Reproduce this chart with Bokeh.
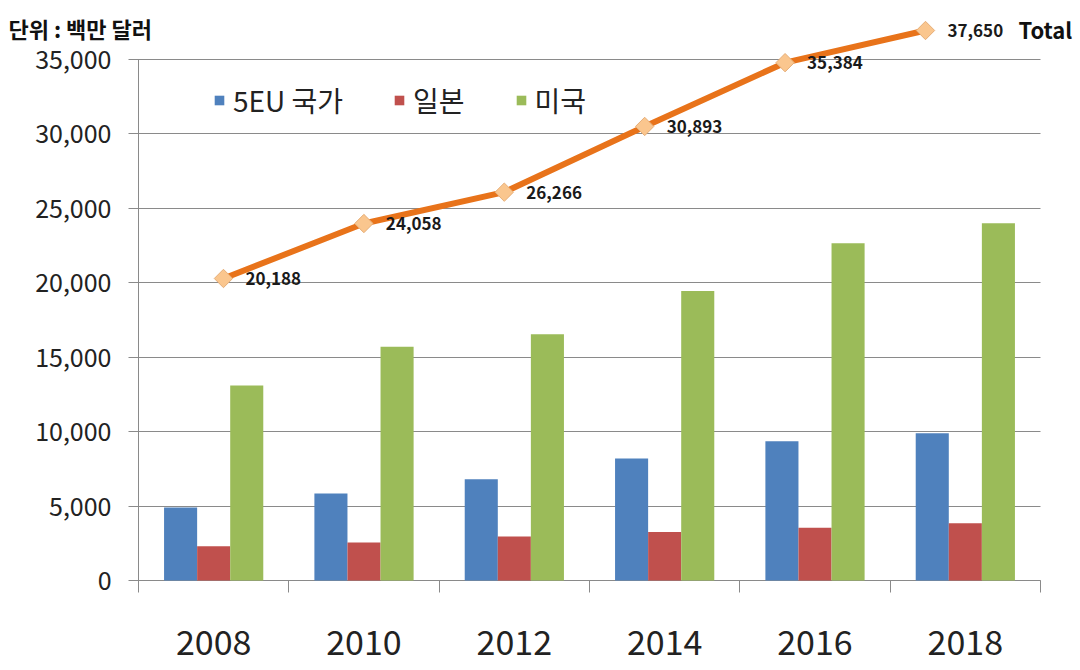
import math
from bokeh.plotting import figure
from bokeh.models import (ColumnDataSource, Range1d, FixedTicker, NumeralTickFormatter,
                          Legend, LegendItem, Label, SingleIntervalTicker, LinearAxis)
from bokeh.transform import dodge
from bokeh.core.properties import value
from bokeh.embed import file_html
from bokeh.resources import INLINE

years = ["2008", "2010", "2012", "2014", "2016", "2018"]
eu5 = [4900, 5850, 6800, 8200, 9350, 9900]
japan = [2300, 2550, 2950, 3250, 3550, 3850]
usa = [13100, 15700, 16550, 19450, 22650, 24000]
total = [20188, 24058, 26266, 30893, 35384, 37650]
series_names = ["5EU 국가", "일본", "미국"]
unit_text = "단위 : 백만 달러"
total_name = "Total"
y_max = 35000
y_step = 5000

FONT = "Noto Sans CJK KR"
idx = list(range(len(years)))
src = ColumnDataSource(dict(idx=idx, eu5=eu5, japan=japan, usa=usa, total=total,
                            lab=[f"{v:,}" for v in total]))

W, H = 1076, 668
# frame covers the whole canvas; the visible plot box is drawn by bounded axes
p = figure(width=W, height=H, output_backend="svg", toolbar_location=None,
           x_axis_type=None, y_axis_type=None,
           x_range=Range1d(-1.418, 5.7395), y_range=Range1d(-5912, 38963),
           min_border=0)
p.outline_line_color = None
p.grid.visible = False
p.extra_x_ranges = {"line": Range1d(-1.588, 6.0755)}
p.extra_y_ranges = {"tot": Range1d(-7274, 39762)}

grid_c = "#8a8a8a"

# y axis fixed at the left edge of the plot box; long inward ticks act as gridlines
ya = LinearAxis(fixed_location=-0.5, ticker=SingleIntervalTicker(interval=y_step),
                bounds=(0, y_max), formatter=NumeralTickFormatter(format="0,0"))
ya.level = "underlay"
ya.axis_line_color = grid_c
ya.major_tick_line_color = grid_c
ya.major_tick_out = 10
ya.major_tick_in = 902
ya.minor_tick_line_color = None
ya.major_label_text_font = FONT
ya.major_label_text_font_size = "25px"
ya.major_label_text_color = "#222222"
ya.major_label_standoff = 17
p.add_layout(ya, "left")

# x axis fixed at zero, ticks between categories
xa = LinearAxis(fixed_location=0, bounds=(-0.5, 5.5),
                ticker=FixedTicker(ticks=idx, minor_ticks=[i - 0.5 for i in range(len(years) + 1)]))
xa.level = "underlay"
xa.major_label_overrides = {i: y for i, y in enumerate(years)}
xa.axis_line_color = grid_c
xa.major_tick_line_color = None
xa.major_tick_out = 12
xa.major_tick_in = 0
xa.minor_tick_line_color = grid_c
xa.minor_tick_out = 12
xa.minor_tick_in = 0
xa.major_label_text_font = FONT
xa.major_label_text_font_size = "34px"
xa.major_label_text_color = "#222222"
xa.major_label_standoff = 38
p.add_layout(xa, "below")

w = 0.22
r1 = p.vbar(x=dodge("idx", -w, range=p.x_range), top="eu5", width=w, source=src,
            fill_color="#4F81BD", line_color=None)
r2 = p.vbar(x=dodge("idx", 0, range=p.x_range), top="japan", width=w, source=src,
            fill_color="#C0504D", line_color=None)
r3 = p.vbar(x=dodge("idx", w, range=p.x_range), top="usa", width=w, source=src,
            fill_color="#9BBB59", line_color=None)

p.line(x="idx", y="total", source=src, x_range_name="line", y_range_name="tot",
       line_color="#E8731A", line_width=6)
p.scatter(x="idx", y="total", source=src, x_range_name="line", y_range_name="tot",
          marker="square", angle=math.pi / 4, size=13,
          fill_color="#FAC68E", line_color="#E6AE78", line_width=1)
p.text(x="idx", y="total", text="lab", source=src, x_range_name="line", y_range_name="tot",
       x_offset=22, text_baseline="middle", text_align="left",
       text_font=value(FONT), text_font_style="bold", text_font_size="17px", text_color="#1a1a1a")

p.add_layout(Label(x=5, y=total[-1], x_range_name="line", y_range_name="tot",
                   x_offset=93, y_offset=1, text=total_name, text_baseline="middle",
                   text_font=FONT, text_font_style="bold", text_font_size="22px",
                   text_color="#111111"))

p.add_layout(Label(x=8, y=H - 27, x_units="screen", y_units="screen", text=unit_text,
                   text_baseline="middle", text_font=FONT, text_font_style="bold",
                   text_font_size="22px", text_color="#111111"))

legend = Legend(items=[LegendItem(label=series_names[0], renderers=[r1]),
                       LegendItem(label=series_names[1], renderers=[r2]),
                       LegendItem(label=series_names[2], renderers=[r3])],
                orientation="horizontal", location=(213, H - 120),
                border_line_color=None, background_fill_alpha=0,
                glyph_width=12, glyph_height=12, label_standoff=8, spacing=50,
                padding=0, margin=0,
                label_text_font=FONT, label_text_font_size="28px", label_text_color="#222222")
p.add_layout(legend)

open("out.html", "w").write(file_html(p, INLINE))
